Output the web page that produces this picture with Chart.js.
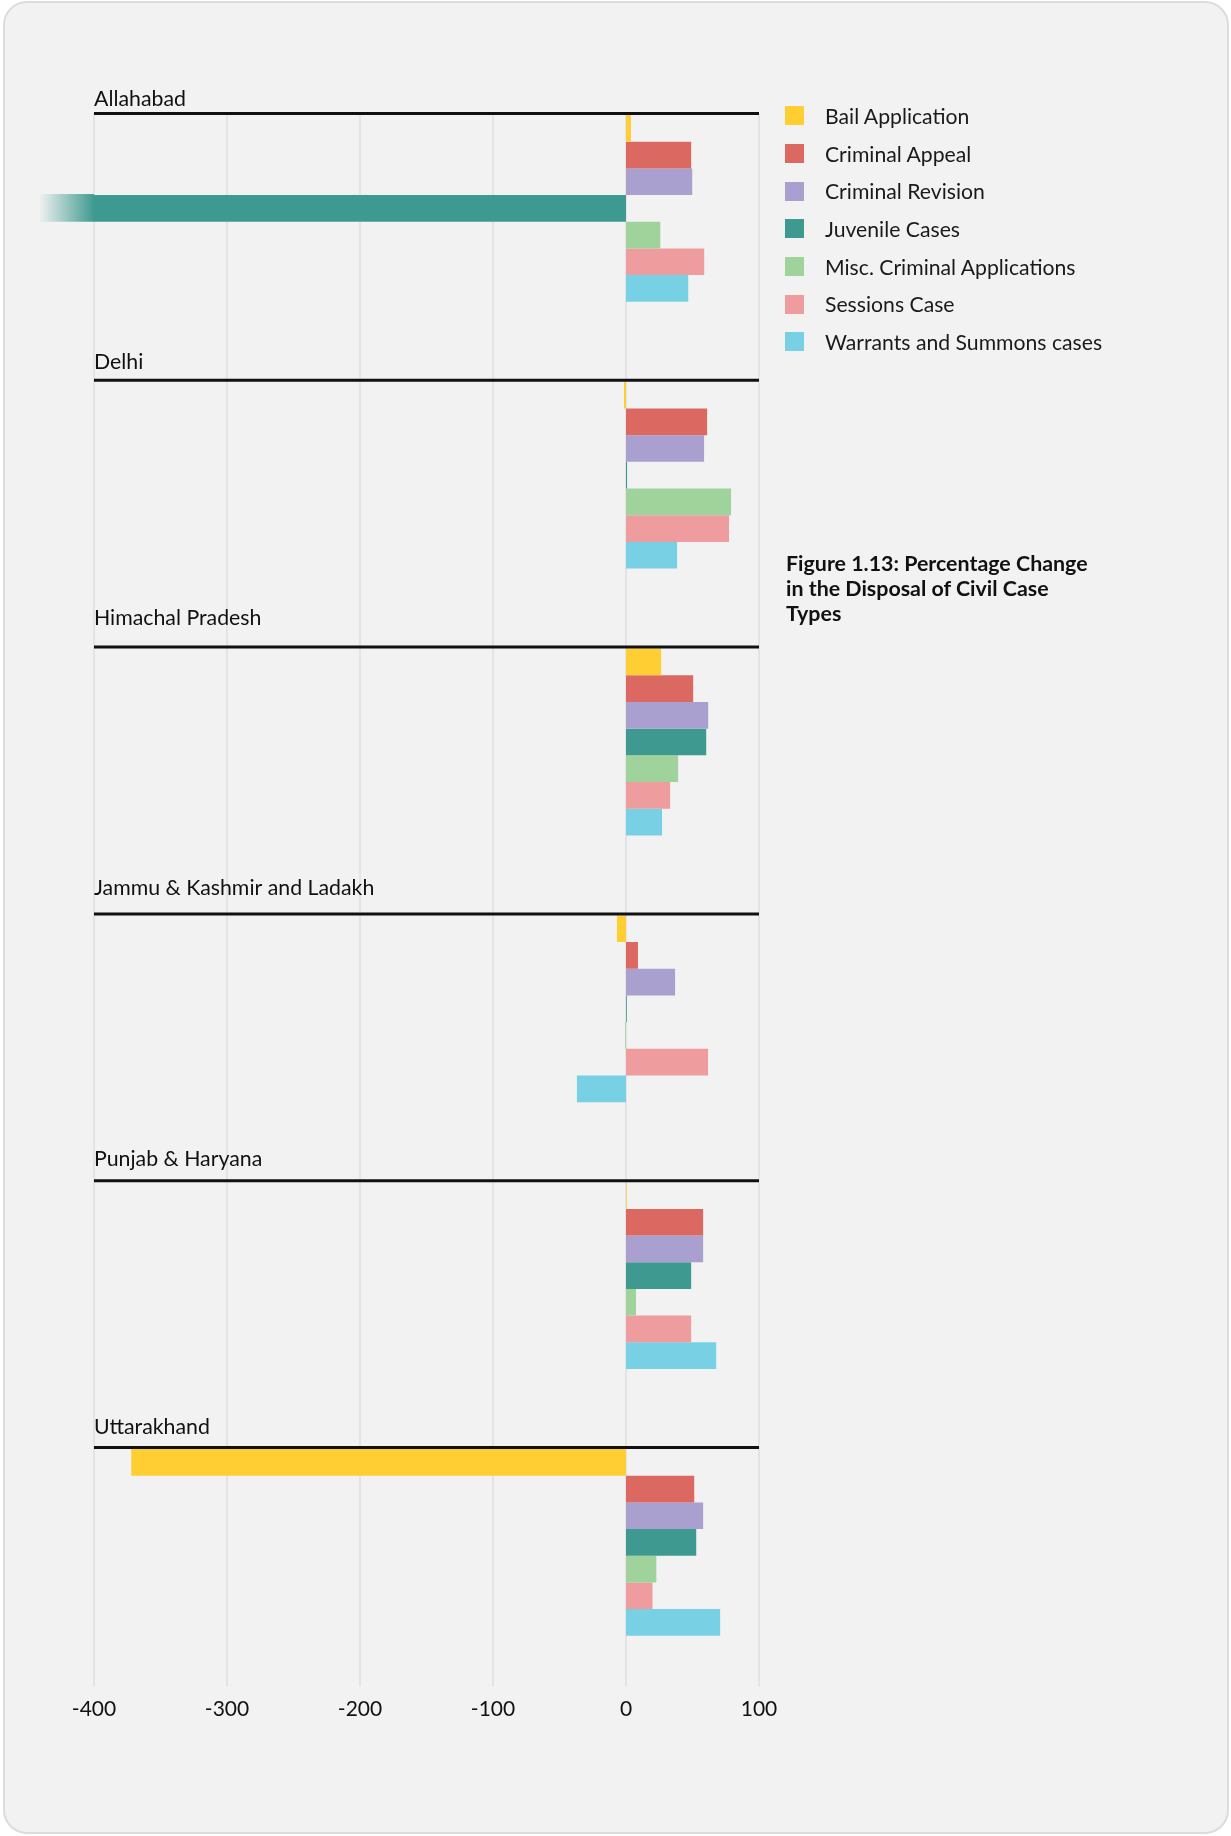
<!DOCTYPE html>
<html>
<head>
<meta charset="utf-8">
<script src="https://cdn.jsdelivr.net/npm/chart.js@4.4.1/dist/chart.umd.min.js"></script>
<style>
  html, body { margin: 0; padding: 0; background: #ffffff; }
  body { width: 1231px; height: 1836px; position: relative; font-family: Lato, sans-serif; }
  .card {
    position: absolute; left: 3px; top: 1px; width: 1226px; height: 1833px;
    box-sizing: border-box; border: 2px solid #dcdcdc; border-radius: 24px;
    background: #f2f2f2;
  }
  #chartBox { position: absolute; left: 0; top: 0; width: 800px; height: 1760px; }
  #legend { position: absolute; left: 785px; top: 97px; margin: 0; padding: 0; list-style: none; }
  #legend li { height: 37.7px; display: flex; align-items: center; font-size: 21.2px; color: #1a1a1a; white-space: nowrap; }
  #legend li span { display: inline-block; width: 19px; height: 19px; margin-right: 21px; }
  #title { position: absolute; left: 786px; top: 551px; font-weight: 700; font-size: 21.4px; line-height: 25px; color: #111; }
</style>
</head>
<body>
<div class="card"></div>
<div id="chartBox"><canvas id="disposalChart"></canvas></div>
<ul id="legend"></ul>
<div id="title">Figure 1.13: Percentage Change<br>in the Disposal of Civil Case<br>Types</div>
<script>
  //---------------------------------------------------
  // Data
  //---------------------------------------------------

  const regions = [
    "Allahabad",
    "Delhi",
    "Himachal Pradesh",
    "Jammu & Kashmir and Ladakh",
    "Punjab & Haryana",
    "Uttarakhand",
  ];

  const bailApplication = [3.7, -1.5, 26.4, -6.8, 0.5, -372];
  const criminalAppeal = [49, 61, 50.5, 9, 58, 51.3];
  const criminalRevision = [49.8, 58.7, 61.8, 36.9, 58, 58];
  // Allahabad runs past the left end of the axis
  const juvenileCases = [-520, 0.8, 60.3, 0.6, 49, 52.8];
  const miscCriminalApplications = [25.8, 79, 39.2, -0.6, 7.5, 22.8];
  const sessionsCase = [58.8, 77.5, 33.2, 61.7, 49, 19.9];
  const warrantsSummons = [46.8, 38.4, 27.1, -36.9, 67.8, 70.8];

  const xTicks = [-400, -300, -200, -100, 0, 100];

  const seriesNames = [
    "Bail Application",
    "Criminal Appeal",
    "Criminal Revision",
    "Juvenile Cases",
    "Misc. Criminal Applications",
    "Sessions Case",
    "Warrants and Summons cases",
  ];
  const seriesColors = ["#ffce33", "#dc6961", "#a9a0d0", "#3e9a90", "#9fd39b", "#ee9c9d", "#77d0e3"];
  const seriesValues = [
    bailApplication,
    criminalAppeal,
    criminalRevision,
    juvenileCases,
    miscCriminalApplications,
    sessionsCase,
    warrantsSummons,
  ];

  const CAT_PCT = 0.7;

  //---------------------------------------------------
  // Plugins
  //---------------------------------------------------

  function groupTop(yScale, i) {
    const center = yScale.getPixelForValue(i);
    const band = yScale.getPixelForValue(1) - yScale.getPixelForValue(0);
    return center - (band * CAT_PCT) / 2;
  }

  const gridPlugin = {
    id: "grid",
    beforeDatasetsDraw(chart) {
      const { ctx, chartArea, scales } = chart;
      const top = groupTop(scales.y, 0) - 1.5;
      ctx.save();
      ctx.strokeStyle = "#e4e4e4";
      ctx.lineWidth = 2;
      scales.x.ticks.forEach((t) => {
        const x = scales.x.getPixelForValue(t.value);
        ctx.beginPath();
        ctx.moveTo(x, top);
        ctx.lineTo(x, chartArea.bottom + 11);
        ctx.stroke();
      });
      ctx.restore();
    },
  };

  const groupPlugin = {
    id: "groups",
    afterDatasetsDraw(chart, args, opts) {
      const { ctx, chartArea, scales } = chart;
      ctx.save();

      // fade for bars cut off at the left edge
      chart.data.datasets.forEach((ds, di) => {
        const meta = chart.getDatasetMeta(di);
        meta.data.forEach((bar, i) => {
          if (ds.data[i] >= scales.x.min) return;
          const p = bar.getProps(["y", "height"], true);
          const x0 = chartArea.left - 55;
          const grad = ctx.createLinearGradient(x0, 0, chartArea.left, 0);
          grad.addColorStop(0, "rgba(62,154,144,0)");
          grad.addColorStop(1, ds.backgroundColor);
          ctx.fillStyle = grad;
          ctx.fillRect(x0, p.y - p.height / 2 - 1, chartArea.left - x0, p.height + 1);
        });
      });

      // region titles and rules
      regions.forEach((name, i) => {
        const y = groupTop(scales.y, i) - 1.5;
        ctx.strokeStyle = "#111";
        ctx.lineWidth = 3;
        ctx.beginPath();
        ctx.moveTo(chartArea.left, y);
        ctx.lineTo(chartArea.right, y);
        ctx.stroke();

        ctx.fillStyle = "#111";
        ctx.font = "21.3px Lato";
        ctx.textBaseline = "alphabetic";
        ctx.textAlign = "left";
        ctx.fillText(name, chartArea.left, y - 8 - (opts.lift[i] || 0));
      });
      ctx.restore();
    },
  };

  //---------------------------------------------------
  // Chart
  //---------------------------------------------------

  Chart.defaults.font.family = "Lato";

  const ctx = document.getElementById("disposalChart");

  const chart = new Chart(ctx, {
    type: "bar",
    data: {
      labels: regions,
      datasets: seriesNames.map((name, i) => ({
        label: name,
        data: seriesValues[i],
        backgroundColor: seriesColors[i],
        borderWidth: 0,
        barPercentage: 1,
        categoryPercentage: CAT_PCT,
      })),
    },
    options: {
      indexAxis: "y",
      responsive: true,
      maintainAspectRatio: false,
      animation: false,
      layout: { padding: { left: 94, right: 41, top: 75, bottom: 17 } },
      plugins: {
        legend: { display: false },
        tooltip: { enabled: false },
        // titles in the original sit a little unevenly above their rules
        groups: { lift: [0, 3.5, 14, 10.5, 7, 6] },
      },
      scales: {
        x: {
          min: -400,
          max: 100,
          afterBuildTicks(scale) {
            scale.ticks = xTicks.map((v) => ({ value: v }));
          },
          grid: { display: false, drawTicks: false },
          border: { display: false },
          ticks: { padding: 21, color: "#111", font: { size: 21 } },
        },
        y: {
          display: false,
        },
      },
    },
    plugins: [gridPlugin, groupPlugin],
  });

  //---------------------------------------------------
  // Legend
  //---------------------------------------------------

  const legend = document.getElementById("legend");
  chart.data.datasets.forEach((ds) => {
    const li = document.createElement("li");
    const box = document.createElement("span");
    box.style.background = ds.backgroundColor;
    li.appendChild(box);
    li.appendChild(document.createTextNode(ds.label));
    legend.appendChild(li);
  });
</script>
</body>
</html>
